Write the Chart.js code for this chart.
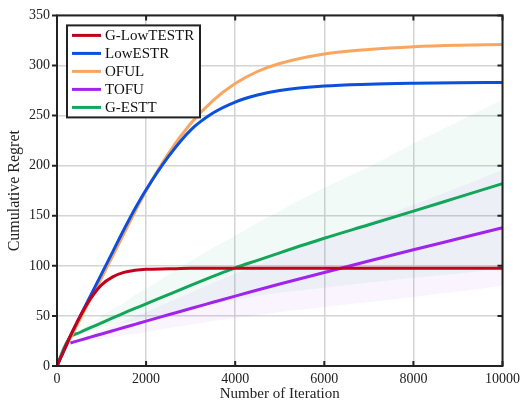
<!DOCTYPE html>
<html>
<head>
<meta charset="utf-8">
<script src="https://cdn.jsdelivr.net/npm/chart.js@4.4.1/dist/chart.umd.min.js"></script>
<style>
  body { margin: 0; background: #fff; }
</style>
</head>
<body>
<canvas id="regret" width="525" height="407"></canvas>
<script>
// values
const iterations = [0, 100, 200, 300, 500, 750, 1000, 1250, 1500, 1750, 2000, 2500, 3000, 3500, 4000, 4500, 5000, 6000, 7000, 8000, 9000, 10000];

const gLowTESTR = [0, 10, 20, 30, 48, 67, 81, 89, 93.5, 95.5, 96.5, 97, 97.5, 97.5, 97.5, 97.5, 97.5, 97.5, 97.5, 97.5, 97.5, 97.5];
const lowESTR = [0, 10, 20, 30, 48, 70, 92, 114, 136, 157, 176, 209, 235.5, 252.5, 263.5, 270.5, 275, 279.5, 281.3, 282.2, 282.7, 283];
const oful = [0, 10, 19, 28, 45, 67, 88, 110, 132, 154, 175, 212, 242, 265, 282, 294, 302, 311.5, 316, 318.8, 320.3, 321];
const tofu = [null, null, null, 23, 25.6, 28.8, 32, 35.2, 38.4, 41.6, 44.8, 51.1, 57.4, 63.6, 69.8, 75.8, 81.8, 93.4, 104.8, 116, 127, 138];
const gESTT = [0, 12, 22, 29, 33.2, 38.2, 43, 48, 52.9, 57.5, 62, 71.3, 80.5, 89.4, 98, 105.5, 113, 127.5, 141, 154.6, 168.3, 182];

// shaded spread bands
const gESTTUpper = [null, null, null, 29, 36, 43, 50, 57, 63, 71, 77, 91, 105, 118, 130, 143, 155, 178, 199, 222, 244, 266];
const gESTTLower = [null, null, null, 29, 32, 35, 38, 41, 43, 45, 47, 53, 58, 62, 66, 70, 73, 78, 83, 88, 92, 98];
const tofuUpper = [null, null, null, 23, 27, 31, 36, 40, 45, 50, 54, 64, 73, 83, 92, 101, 110, 127, 144, 161, 178, 196];
const tofuLower = [null, null, null, 23, 24, 26, 27, 29, 31, 32, 34, 38, 41, 45, 48, 51, 54, 59, 64, 69, 74, 80];

const xTicks = [0, 2000, 4000, 6000, 8000, 10000];
const yTicks = [0, 50, 100, 150, 200, 250, 300, 350];

function pts(values) {
  return iterations.map((x, i) => ({ x: x, y: values[i] }));
}

function lineSet(label, values, color) {
  return {
    label: label,
    data: pts(values),
    borderColor: color,
    backgroundColor: color,
    borderWidth: 3,
    pointRadius: 0,
    cubicInterpolationMode: "monotone",
    fill: false,
  };
}

function bandSet(values, fillColor, fillTo) {
  return {
    label: "",
    band: true,
    data: pts(values),
    borderWidth: 0,
    borderColor: "transparent",
    backgroundColor: fillColor,
    pointRadius: 0,
    cubicInterpolationMode: "monotone",
    fill: fillTo,
  };
}

const serif = "'Liberation Serif', 'DejaVu Serif', serif";

// frame with ticks + boxed legend inside the plot
const framePlugin = {
  id: "frame",
  afterDraw(chart) {
    const ctx = chart.ctx;
    const a = chart.chartArea;
    const xs = chart.scales.x;
    const ys = chart.scales.y;
    ctx.save();
    ctx.strokeStyle = "#222";
    ctx.lineWidth = 2;
    ctx.strokeRect(a.left, a.top, a.right - a.left, a.bottom - a.top);
    ctx.beginPath();
    xTicks.forEach((v) => {
      const px = xs.getPixelForValue(v);
      ctx.moveTo(px, a.bottom);
      ctx.lineTo(px, a.bottom - 5);
      ctx.moveTo(px, a.top);
      ctx.lineTo(px, a.top + 5);
    });
    yTicks.forEach((v) => {
      const py = ys.getPixelForValue(v);
      ctx.moveTo(a.left, py);
      ctx.lineTo(a.left - 5, py);
      ctx.moveTo(a.right, py);
      ctx.lineTo(a.right - 5, py);
    });
    ctx.stroke();

    // legend
    const items = chart.data.datasets.filter((d) => !d.band);
    const bx = a.left + 10;
    const by = a.top + 10;
    const rowH = 18;
    const bw = 133;
    const bh = items.length * rowH + 2;
    ctx.fillStyle = "#fff";
    ctx.fillRect(bx, by, bw, bh);
    ctx.strokeStyle = "#222";
    ctx.lineWidth = 2;
    ctx.strokeRect(bx, by, bw, bh);
    ctx.font = "15px " + serif;
    ctx.textBaseline = "middle";
    items.forEach((d, i) => {
      const cy = by + 10 + i * rowH;
      ctx.strokeStyle = d.borderColor;
      ctx.lineWidth = 3;
      ctx.beginPath();
      ctx.moveTo(bx + 5, cy);
      ctx.lineTo(bx + 34, cy);
      ctx.stroke();
      ctx.fillStyle = "#111";
      ctx.fillText(d.label, bx + 38, cy + 1);
    });
    ctx.restore();
  },
};

const chart = new Chart(document.getElementById("regret"), {
  type: "line",
  data: {
    datasets: [
      lineSet("G-LowTESTR", gLowTESTR, "#c4001c"),
      lineSet("LowESTR", lowESTR, "#0a50dc"),
      lineSet("OFUL", oful, "#f8a660"),
      lineSet("TOFU", tofu, "#a124ee"),
      lineSet("G-ESTT", gESTT, "#12a65a"),
      bandSet(gESTTLower, "transparent", false),
      bandSet(gESTTUpper, "rgba(0, 160, 90, 0.05)", "-1"),
      bandSet(tofuLower, "transparent", false),
      bandSet(tofuUpper, "rgba(150, 40, 230, 0.05)", "-1"),
    ],
  },
  options: {
    responsive: false,
    animation: false,
    layout: { padding: { top: 13, right: 22, left: 0, bottom: 0 } },
    plugins: {
      legend: { display: false },
      tooltip: { enabled: false },
    },
    scales: {
      x: {
        type: "linear",
        min: 0,
        max: 10000,
        afterFit: (s) => { s.height = 41; },
        afterBuildTicks: (s) => { s.ticks = xTicks.map((v) => ({ value: v })); },
        ticks: {
          color: "#222",
          padding: 5,
          maxRotation: 0,
          font: { family: serif, size: 14 },
          callback: (v) => String(v),
        },
        grid: { color: "#d4d4d4", lineWidth: 1.5, drawTicks: false },
        border: { display: false },
        title: {
          display: true,
          text: "Number of Iteration",
          color: "#222",
          font: { family: serif, size: 15 },
          padding: { top: 0, bottom: 4 },
        },
      },
      y: {
        min: 0,
        max: 350,
        afterFit: (s) => { s.width = 57; },
        afterBuildTicks: (s) => { s.ticks = yTicks.map((v) => ({ value: v })); },
        ticks: {
          color: "#222",
          padding: 7,
          font: { family: serif, size: 14 },
          callback: (v) => String(v),
        },
        grid: { color: "#d4d4d4", lineWidth: 1.5, drawTicks: false },
        border: { display: false },
        title: {
          display: true,
          text: "Cumulative Regret",
          color: "#222",
          font: { family: serif, size: 16 },
          padding: { top: 5, bottom: 0 },
        },
      },
    },
  },
  plugins: [framePlugin],
});
</script>
</body>
</html>
